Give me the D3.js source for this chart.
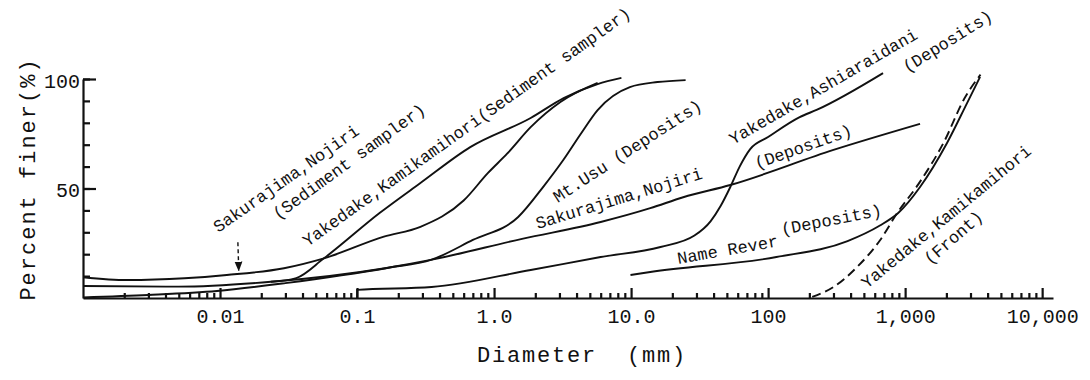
<!DOCTYPE html>
<html>
<head>
<meta charset="utf-8">
<script src="https://cdn.jsdelivr.net/npm/d3@7"></script>
<style>
  body { margin: 0; background: #fff; }
  svg text { font-family: "Liberation Mono", "DejaVu Sans Mono", monospace; fill: #111; }
  .curve { fill: none; stroke: #111; stroke-width: 1.9; }
  .axis path, .axis line { stroke: #111; stroke-width: 2.2; }
</style>
</head>
<body>
<div id="chart"></div>
<script>
// grain size distributions: diameter (mm) vs percent finer
const sakuraSedD = [0.001, 0.0021, 0.0055, 0.0112, 0.0293, 0.0573, 0.157, 0.29, 0.6, 0.9, 1.25, 1.85, 3.05, 5.7];
const sakuraSedP = [9.5, 8.2, 9.0, 10.5, 13.6, 18.1, 28, 32.5, 44.5, 57, 66, 78, 89.5, 98.2];

const yakeSedD = [0.0235, 0.036, 0.0573, 0.146, 0.29, 0.67, 1.85, 3.22, 5.7, 8.5];
const yakeSedP = [7.4, 9.1, 18.1, 38.8, 52.5, 68.9, 82.2, 91.3, 97.7, 100.5];

const usuD = [0.001, 0.003, 0.0095, 0.03, 0.17, 0.35, 0.7, 1.5, 2.3, 3.2, 4.3, 5.7, 9.8, 15.6, 25];
const usuP = [0.3, 1.4, 3.2, 6.8, 13.8, 17.5, 26.5, 37, 51, 63, 75, 85.8, 96.3, 98.6, 99.5];

const sakuraDepD = [0.001, 0.005, 0.0235, 0.16, 0.345, 1.6, 6, 13.8, 24, 53, 300, 1285];
const sakuraDepP = [5.5, 5.2, 7.4, 13.6, 17.4, 27, 34.7, 41, 46, 51.6, 67.6, 79.5];

const ashiD = [0.1, 0.1001, 0.35, 1.85, 6, 16.4, 29, 38, 45, 53, 62, 74, 100, 170, 228, 690];
const ashiP = [0, 3.7, 5, 12.8, 18.7, 23.3, 28.5, 35, 42, 50.7, 60, 68, 73.5, 82.6, 86, 102.7];

const nameD = [9.9, 13.8, 115, 380, 650, 890, 1285, 2022, 2831, 3524];
const nameP = [10.5, 11.9, 18.7, 26, 33, 38.8, 50.7, 70.8, 89, 101];

const frontD = [210, 300, 447, 658, 875, 1250, 1930, 2700, 3550];
const frontP = [0.5, 5, 14.2, 26.5, 38.8, 52, 71.5, 91, 102];

const xMajor = [0.01, 0.1, 1, 10, 100, 1000, 10000];
const xMajorLabels = ["0.01", "0.1", "1.0", "10.0", "100", "1,000", "10,000"];
const yTicks = [10, 20, 30, 40, 50, 60, 70, 80, 90, 100];
const yLabelled = [50, 100];

let W = 1090, H = 380,
    svg = d3.select("#chart").append("svg").attr("width", W).attr("height", H);

let x = d3.scaleLog().domain([0.001, 12000]).range([83, 1053]),
    y = d3.scaleLinear().domain([0, 100]).range([298, 79]);

let line = d3.line()
    .x(d => x(d[0]))
    .y(d => y(d[1]))
    .curve(d3.curveMonotoneX);

let zip = (ds, ps) => ds.map((d, i) => [d, ps[i]]);

// minor log ticks 2..9 in each decade
let xMinor = [];
for (let e = -3; e < 4; e++) for (let m = 2; m <= 9; m++) xMinor.push(m * Math.pow(10, e));

svg.append("g")
    .attr("class", "axis")
    .attr("transform", "translate(0," + y(0) + ")")
    .call(d3.axisBottom(x).tickValues(xMinor).tickSize(-5).tickSizeOuter(0).tickFormat(""));

let xa = svg.append("g")
    .attr("class", "axis")
    .attr("transform", "translate(0," + y(0) + ")")
    .call(d3.axisBottom(x).tickValues(xMajor).tickSize(-10).tickSizeOuter(0).tickPadding(11)
        .tickFormat((d, i) => xMajorLabels[i]));
xa.selectAll("text").attr("font-size", 20).style("font-family", "'Liberation Mono', monospace");

svg.append("g")
    .attr("class", "axis")
    .attr("transform", "translate(" + x(0.001) + ",0)")
    .call(d3.axisLeft(y).tickValues(yTicks).tickSize(-7).tickSizeOuter(0).tickFormat(""));

let ya = svg.append("g")
    .attr("class", "axis")
    .attr("transform", "translate(" + x(0.001) + ",0)")
    .call(d3.axisLeft(y).tickValues(yLabelled).tickSize(-13).tickSizeOuter(0).tickPadding(3));
ya.selectAll("text").attr("font-size", 20).attr("dy", "0.4em").style("font-family", "'Liberation Mono', monospace");
ya.select(".domain").remove();
xa.select(".domain").remove();

svg.append("text")
    .attr("x", 582).attr("y", 362)
    .attr("text-anchor", "middle")
    .attr("font-size", 22)
    .attr("letter-spacing", 1.8)
    .attr("xml:space", "preserve")
    .text("Diameter  (mm)");

svg.append("text")
    .attr("transform", "translate(35,179) rotate(-90)")
    .attr("text-anchor", "middle")
    .attr("font-size", 22)
    .attr("letter-spacing", 2)
    .text("Percent finer(%)");

// curves
[
    [sakuraSedD, sakuraSedP, null],
    [yakeSedD, yakeSedP, null],
    [usuD, usuP, null],
    [sakuraDepD, sakuraDepP, null],
    [ashiD, ashiP, null],
    [nameD, nameP, null],
    [frontD, frontP, "9,5"]
].forEach(s => {
    svg.append("path")
        .datum(zip(s[0], s[1]))
        .attr("class", "curve")
        .attr("stroke-dasharray", s[2])
        .attr("d", line);
});

// labels: text, anchor diameter, anchor percent, angle
let notes = [
    ["Sakurajima,Nojiri", 0.0097, 29.7, -35],
    ["(Sediment sampler)", 0.0265, 35.6, -36],
    ["Yakedake,Kamikamihori(Sediment sampler)", 0.0437, 23.3, -35.5],
    ["Mt.Usu (Deposits)", 2.91, 43.4, -33],
    ["Sakurajima,Nojiri", 2.08, 31.5, -17],
    ["(Deposits)", 83, 58.9, -19.5],
    ["Yakedake,Ashiaraidani", 55.7, 69.9, -30],
    ["(Deposits)", 1035, 102.7, -32],
    ["Name Rever", 22.1, 15.5, -10],
    ["(Deposits)", 127, 28.8, -11],
    ["Yakedake,Kamikamihori", 528, 4.1, -39.5],
    ["(Front)", 1521, 15, -41]
];

svg.append("g")
    .selectAll("text")
    .data(notes)
    .join("text")
    .attr("transform", d => "translate(" + x(d[1]) + "," + y(d[2]) + ") rotate(" + d[3] + ")")
    .attr("font-size", 17)
    .attr("xml:space", "preserve")
    .text(d => d[0]);

// dashed pointer from the label to its curve
svg.append("defs").append("marker")
    .attr("id", "head")
    .attr("viewBox", "0 0 10 10")
    .attr("refX", 9).attr("refY", 5)
    .attr("markerWidth", 7).attr("markerHeight", 7)
    .attr("orient", "auto")
    .append("path").attr("d", "M0,1L10,5L0,9z").attr("fill", "#111");

svg.append("line")
    .attr("x1", x(0.0135)).attr("y1", y(25.5))
    .attr("x2", x(0.0137)).attr("y2", y(12.6))
    .attr("stroke", "#111").attr("stroke-width", 1.4)
    .attr("stroke-dasharray", "4,3")
    .attr("marker-end", "url(#head)");
</script>
</body>
</html>
